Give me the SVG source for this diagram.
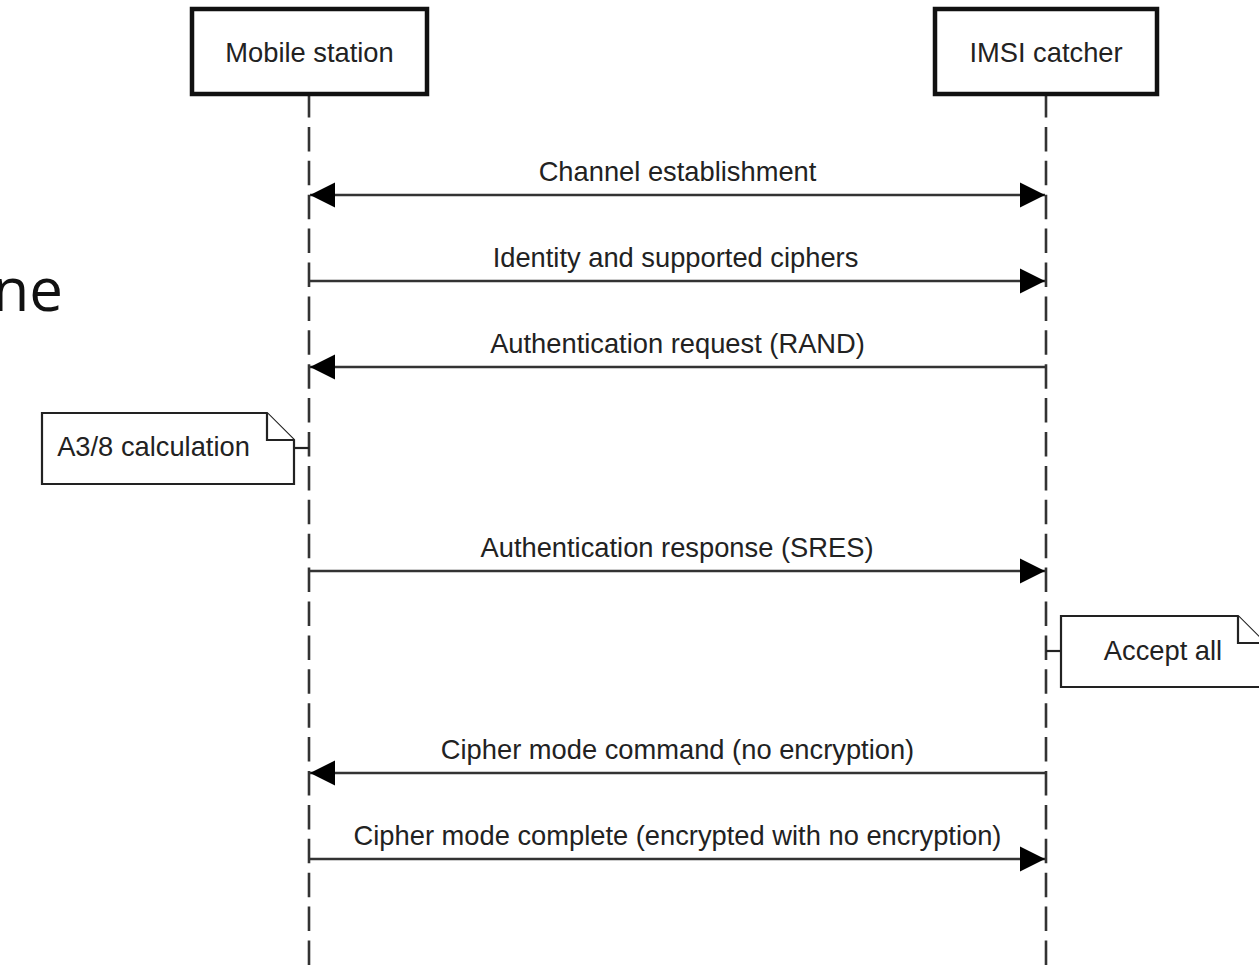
<svg xmlns="http://www.w3.org/2000/svg" width="1259" height="965" viewBox="0 0 1259 965">
  <style>
    .bg { fill: #ffffff; }
    .actor { fill: #ffffff; stroke: #111111; stroke-width: 4.5; }
    .life { stroke: #333333; stroke-width: 2.6; stroke-dasharray: 24.5 9.4; fill: none; }
    .msg { stroke: #333333; stroke-width: 2.6; fill: none; }
    .note { fill: #ffffff; stroke: #222222; stroke-width: 2.2; stroke-linejoin: miter; }
    .link { stroke: #222222; stroke-width: 2.2; fill: none; }
    .lbl { font-family: "Liberation Sans", Arial, sans-serif; font-size: 27.3px; fill: #222222; text-anchor: middle; }
    .big { font-family: "Open Sans", "Noto Sans", sans-serif; font-size: 60px; fill: #111111; }
  </style>
  <defs>
    <marker id="head" markerWidth="26" markerHeight="26" viewBox="0 0 26 26" refX="25" refY="13" orient="auto-start-reverse" markerUnits="userSpaceOnUse">
      <path d="M0,0.5 L25,13 L0,25.5 Z" fill="#000000"/>
    </marker>
  </defs>

  <rect class="bg" x="0" y="0" width="1259" height="965"/>

  <!-- tail of a slide heading running in from the left edge -->
  <text class="big" x="63" y="311" text-anchor="end">ne</text>

  <!-- lifelines -->
  <g id="lifelines">
    <line class="life" x1="309" y1="93" x2="309" y2="965"/>
    <line class="life" x1="1046" y1="93" x2="1046" y2="965"/>
  </g>

  <!-- participants -->
  <g id="mobile-station">
    <rect class="actor" x="192" y="9" width="235" height="85"/>
    <text class="lbl" x="309.5" y="62">Mobile station</text>
  </g>
  <g id="imsi-catcher">
    <rect class="actor" x="935" y="9" width="222" height="85"/>
    <text class="lbl" x="1046" y="62">IMSI catcher</text>
  </g>

  <!-- messages -->
  <g id="connectors">
    <line class="msg" x1="310" y1="195" x2="1045" y2="195" marker-start="url(#head)" marker-end="url(#head)"/>
    <line class="msg" x1="309" y1="281" x2="1045" y2="281" marker-end="url(#head)"/>
    <line class="msg" x1="1046" y1="367" x2="310" y2="367" marker-end="url(#head)"/>
    <line class="msg" x1="309" y1="571" x2="1045" y2="571" marker-end="url(#head)"/>
    <line class="msg" x1="1046" y1="773" x2="310" y2="773" marker-end="url(#head)"/>
    <line class="msg" x1="309" y1="859" x2="1045" y2="859" marker-end="url(#head)"/>
    <line class="link" x1="294" y1="448" x2="309" y2="448"/>
    <line class="link" x1="1046" y1="651" x2="1061" y2="651"/>
  </g>

  <g id="message-labels">
    <text class="lbl" x="677.5" y="181">Channel establishment</text>
    <text class="lbl" x="675.5" y="267">Identity and supported ciphers</text>
    <text class="lbl" x="677.5" y="353">Authentication request (RAND)</text>
    <text class="lbl" x="677" y="557">Authentication response (SRES)</text>
    <text class="lbl" x="677.5" y="759">Cipher mode command (no encryption)</text>
    <text class="lbl" x="677.5" y="845">Cipher mode complete (encrypted with no encryption)</text>
  </g>

  <!-- notes -->
  <g id="note-a38">
    <path class="note" d="M42,413 L267,413 L294,440 L294,484 L42,484 Z"/>
    <path class="note" d="M267,413 L267,440 L294,440" fill="none"/>
    <text class="lbl" x="153.5" y="456">A3/8 calculation</text>
  </g>
  <g id="note-accept">
    <path class="note" d="M1061,616 L1238,616 L1265,643 L1265,687 L1061,687 Z"/>
    <path class="note" d="M1238,616 L1238,643 L1265,643" fill="none"/>
    <text class="lbl" x="1163" y="660">Accept all</text>
  </g>
</svg>
